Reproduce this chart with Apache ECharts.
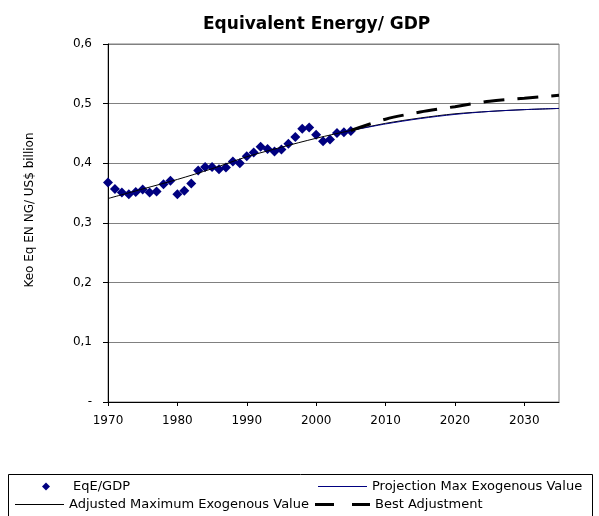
<!DOCTYPE html>
<html>
<head>
<meta charset="utf-8">
<script src="https://cdn.jsdelivr.net/npm/echarts@6/dist/echarts.min.js"></script>
<style>
html,body{margin:0;padding:0;background:#fff;}
#chart{width:599px;height:516px;}
</style>
</head>
<body>
<div id="chart"></div>
<script>
// EqE/GDP observed points
var years = [1970,1971,1972,1973,1974,1975,1976,1977,1978,1979,
	1980,1981,1982,1983,1984,1985,1986,1987,1988,1989,
	1990,1991,1992,1993,1994,1995,1996,1997,1998,1999,
	2000,2001,2002,2003,2004,2005];
var eqeGdp = [0.368,0.357,0.351,0.348,0.352,0.356,0.351,0.353,0.365,0.371,
	0.348,0.354,0.366,0.388,0.394,0.394,0.390,0.393,0.403,0.400,
	0.412,0.418,0.428,0.424,0.420,0.423,0.433,0.444,0.458,0.460,
	0.448,0.437,0.440,0.451,0.452,0.454];

// curves
var adjYears = [1970,1975,1980,1985,1990,1995,2000,2005,2010,2015,2020,2025,2030,2035];
var adjusted = [0.341,0.357,0.373,0.391,0.411,0.427,0.442,0.455,0.467,0.476,0.483,0.487,0.490,0.492];
var projYears = [2005,2010,2015,2020,2025,2030,2035];
var projection = [0.455,0.466,0.475,0.482,0.487,0.490,0.492];
var bestAdjustment = [0.455,0.474,0.486,0.495,0.504,0.509,0.514];

var xTicks = [1970,1980,1990,2000,2010,2020,2030];

function pairs(xs, ys){
	var out = [];
	for (var i = 0; i < xs.length; i++) out.push([xs[i], ys[i]]);
	return out;
}

var chart = echarts.init(document.getElementById('chart'));
var font = '"DejaVu Sans", Arial, sans-serif';
var legendText = {color: '#000', fontSize: 13, fontFamily: font};
var option = {
	animation: false,
	textStyle: {fontFamily: font},
	title: {
		text: 'Equivalent Energy/ GDP',
		left: 198, top: 11,
		textStyle: {fontSize: 17, fontWeight: 'bold', color: '#000', fontFamily: font}
	},
	grid: {
		left: 108, right: 40, top: 44, bottom: 114,
		show: true, borderColor: '#808080', borderWidth: 1
	},
	xAxis: {
		type: 'value', min: 1970, max: 2035, interval: 10,
		axisLine: {lineStyle: {color: '#000', width: 1}},
		axisTick: {length: 4, inside: false, lineStyle: {color: '#000'}, customValues: xTicks},
		axisLabel: {
			color: '#000', fontSize: 12, margin: 13, customValues: xTicks,
			formatter: function(v){ return String(v); }
		},
		splitLine: {show: false}
	},
	yAxis: {
		type: 'value', min: 0, max: 0.6, interval: 0.1,
		name: 'Keo Eq EN NG/ US$ billion',
		nameLocation: 'middle', nameRotate: 90, nameGap: 72,
		nameTextStyle: {color: '#000', fontSize: 12, padding: [0, 0, 0, 26]},
		axisLine: {show: true, lineStyle: {color: '#000', width: 1}},
		axisTick: {show: true, length: 5, lineStyle: {color: '#000'}},
		axisLabel: {
			color: '#000', fontSize: 12, margin: 16,
			formatter: function(v){
				if (v === 0) return '-';
				return v.toFixed(1).replace('.', ',');
			}
		},
		splitLine: {show: true, lineStyle: {color: '#808080', width: 1}}
	},
	legend: [
		{
			left: 42, top: 480, padding: 0, selectedMode: false, itemGap: 0,
			itemWidth: 26, itemHeight: 8,
			icon: 'path://M0,4L4,0L8,4L4,8Z M26,4L26,4.01L25.99,4Z',
			textStyle: legendText,
			data: ['EqE/GDP']
		},
		{
			left: 318, top: 480, padding: 0, selectedMode: false,
			itemWidth: 49, itemHeight: 1, itemGap: 0,
			icon: 'rect',
			textStyle: legendText,
			data: ['Projection Max Exogenous Value']
		},
		{
			left: 15, top: 498, padding: 0, selectedMode: false,
			itemWidth: 49, itemHeight: 1, itemGap: 0,
			icon: 'rect',
			textStyle: legendText,
			data: ['Adjusted Maximum Exogenous Value']
		},
		{
			left: 315, top: 498, padding: 0, selectedMode: false,
			itemWidth: 55, itemHeight: 3, itemGap: 0,
			icon: 'path://M0,0h19v3h-19z M37,0h18v3h-18z',
			textStyle: legendText,
			data: ['Best Adjustment']
		}
	],
	graphic: [{
		type: 'rect', silent: true,
		shape: {x: 8.5, y: 474.5, width: 584, height: 50},
		style: {fill: 'none', stroke: '#000', lineWidth: 1}
	}],
	series: [
		{
			name: 'Adjusted Maximum Exogenous Value',
			type: 'line', smooth: 0.3, symbol: 'none',
			color: '#000',
			lineStyle: {color: '#000', width: 1},
			data: pairs(adjYears, adjusted)
		},
		{
			name: 'Projection Max Exogenous Value',
			type: 'line', smooth: 0.3, symbol: 'none',
			color: '#000080',
			lineStyle: {color: '#000080', width: 1},
			data: pairs(projYears, projection)
		},
		{
			name: 'Best Adjustment',
			type: 'line', smooth: 0.3, symbol: 'none',
			color: '#000',
			lineStyle: {color: '#000', width: 3, type: [21, 13]},
			data: pairs(projYears, bestAdjustment)
		},
		{
			name: 'EqE/GDP',
			type: 'scatter', symbol: 'diamond', symbolSize: 10,
			color: '#000080',
			itemStyle: {color: '#000080', opacity: 1},
			data: pairs(years, eqeGdp)
		}
	]
};
chart.setOption(option);
</script>
</body>
</html>
